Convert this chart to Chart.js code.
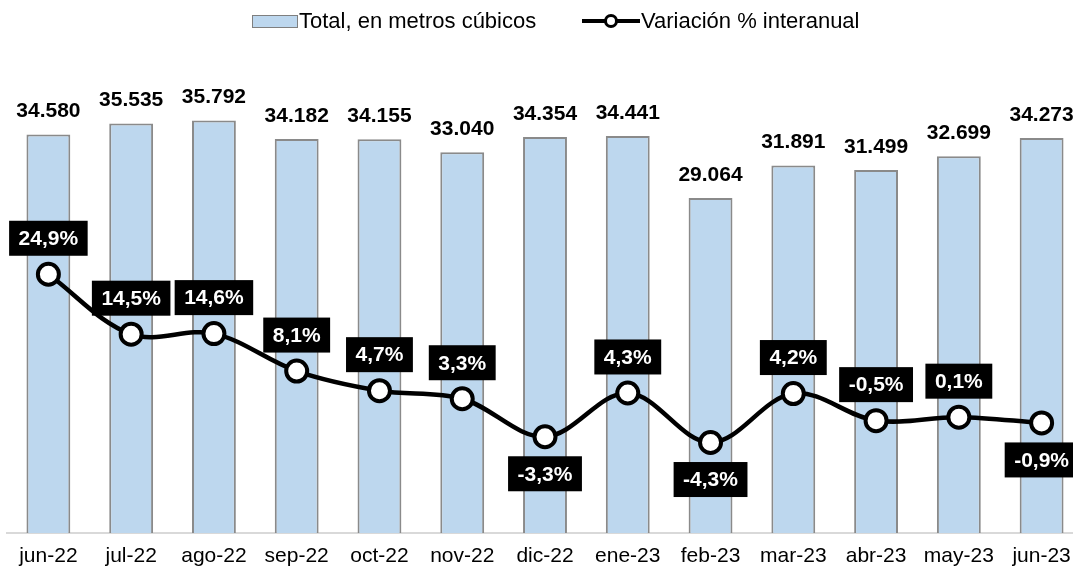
<!DOCTYPE html>
<html>
<head>
<meta charset="utf-8">
<script src="https://cdn.jsdelivr.net/npm/chart.js@4/dist/chart.umd.min.js"></script>
<style>
  html, body { margin: 0; padding: 0; background: #fff; overflow: hidden; }
  #wrap { position: relative; width: 1083px; height: 574px; }
  #legend { position: absolute; top: 8px; left: 0; height: 26px; font-family: "Liberation Sans", Arial, sans-serif; font-size: 22px; color: #000; }
  .lg { position: absolute; top: 0; line-height: 26px; white-space: nowrap; }
  #sw { position: absolute; left: 252px; top: 7px; width: 44px; height: 11px; background: #BDD7EE; border: 1px solid #7f7f7f; }
  #ln { position: absolute; left: 582px; top: 11px; width: 58px; height: 4px; background: #000; }
  #dot { position: absolute; left: 604px; top: 6px; width: 8px; height: 8px; background: #fff; border: 3px solid #000; border-radius: 50%; }
</style>
</head>
<body>
<div id="wrap">
  <canvas id="c" width="1083" height="574"></canvas>
  <div id="legend">
    <div id="sw"></div>
    <div class="lg" style="left:299px">Total, en metros cúbicos</div>
    <div id="ln"></div>
    <div id="dot"></div>
    <div class="lg" style="left:641px">Variación % interanual</div>
  </div>
</div>
<script>
const categories = ["jun-22","jul-22","ago-22","sep-22","oct-22","nov-22","dic-22","ene-23","feb-23","mar-23","abr-23","may-23","jun-23"];
const totalM3 = [34580, 35535, 35792, 34182, 34155, 33040, 34354, 34441, 29064, 31891, 31499, 32699, 34273];
const variacionPct = [24.9, 14.5, 14.6, 8.1, 4.7, 3.3, -3.3, 4.3, -4.3, 4.2, -0.5, 0.1, -0.9];
const labelsBelow = [6, 8, 12];

const FONT = '"Liberation Sans", Arial, sans-serif';

function fmtThousands(v) {
  const s = String(Math.round(v));
  return s.replace(/\B(?=(\d{3})+(?!\d))/g, '.');
}
function fmtPct(v) {
  return v.toFixed(1).replace('.', ',') + '%';
}

const labelPlugin = {
  id: 'labels',
  afterDatasetsDraw(chart) {
    const ctx = chart.ctx;
    ctx.save();
    ctx.font = 'bold 21px ' + FONT;
    ctx.textAlign = 'center';
    ctx.textBaseline = 'middle';
    const bm = chart.getDatasetMeta(0);
    bm.data.forEach((el, i) => {
      ctx.fillStyle = '#000';
      ctx.fillText(fmtThousands(totalM3[i]), el.x, el.y - 23);
    });
    const lm = chart.getDatasetMeta(1);
    lm.data.forEach((el, i) => {
      const txt = fmtPct(variacionPct[i]);
      const w = ctx.measureText(txt).width + 19;
      const h = 35;
      const below = labelsBelow.includes(i);
      const cy = below ? el.y + 37 : el.y - 36;
      ctx.fillStyle = '#000';
      ctx.fillRect(el.x - w / 2, cy - h / 2, w, h);
      ctx.fillStyle = '#fff';
      ctx.fillText(txt, el.x, cy + 1);
    });
    ctx.restore();
  }
};

new Chart(document.getElementById('c'), {
  data: {
    labels: categories,
    datasets: [
      {
        type: 'bar',
        label: 'Total, en metros cúbicos',
        data: totalM3,
        yAxisID: 'y',
        backgroundColor: '#BDD7EE',
        borderColor: '#8a8a8a',
        borderWidth: 2,
        categoryPercentage: 1,
        barPercentage: 0.53,
        order: 2
      },
      {
        type: 'line',
        label: 'Variación % interanual',
        data: variacionPct,
        yAxisID: 'y1',
        borderColor: '#000',
        borderWidth: 4.5,
        tension: 0.35,
        pointRadius: 10.5,
        pointBorderWidth: 4,
        pointBackgroundColor: '#fff',
        pointBorderColor: '#000',
        clip: false,
        order: 1
      }
    ]
  },
  options: {
    responsive: false,
    animation: false,
    layout: { autoPadding: false, padding: { top: 72, left: 7, right: 0, bottom: 0 } },
    plugins: { legend: { display: false }, tooltip: { enabled: false } },
    scales: {
      x: {
        offset: true,
        grid: { display: false, drawTicks: false },
        border: { display: true, color: '#d9d9d9', width: 2 },
        ticks: { color: '#000', font: { family: FONT, size: 21 }, padding: 11, maxRotation: 0, autoSkip: false },
        afterFit(s) { s.height = 41; s.paddingLeft = 0; s.paddingRight = 0; }
      },
      y: { display: false, min: 0, max: 40000 },
      y1: { display: false, min: -20, max: 60 }
    }
  },
  plugins: [labelPlugin]
});
</script>
</body>
</html>
